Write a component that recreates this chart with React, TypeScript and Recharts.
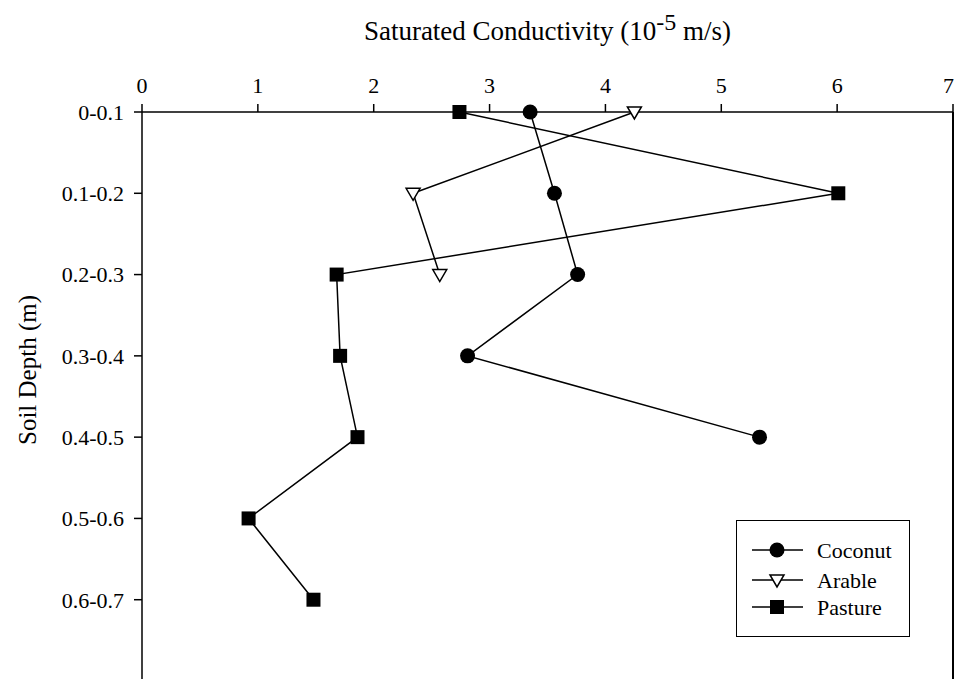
import { ScatterChart, Scatter, XAxis, YAxis, ReferenceLine, Legend } from 'recharts';

const depths = ['0-0.1', '0.1-0.2', '0.2-0.3', '0.3-0.4', '0.4-0.5', '0.5-0.6', '0.6-0.7'];
const conductivityTicks = [0, 1, 2, 3, 4, 5, 6, 7];

const coconut = [3.35, 3.56, 3.76, 2.81, 5.33];
const arable = [4.25, 2.34, 2.57];
const pasture = [2.74, 6.01, 1.68, 1.71, 1.86, 0.92, 1.48];

const FONT = '"Liberation Serif", "Times New Roman", serif';

const toPoints = (values: number[]) => values.map((v, i) => ({ x: v, y: i }));

function Circle({ cx, cy }: any) {
  return <circle cx={cx} cy={cy} r={7.5} fill="#000" />;
}

function Triangle({ cx, cy }: any) {
  return (
    <path
      d={`M${cx - 7},${cy - 5} L${cx + 7},${cy - 5} L${cx},${cy + 7} Z`}
      fill="#fff"
      stroke="#000"
      strokeWidth={1.5}
    />
  );
}

function Square({ cx, cy }: any) {
  return <rect x={cx - 7} y={cy - 7} width={14} height={14} fill="#000" />;
}

function TitleLabel({ viewBox }: any) {
  const cx = viewBox.x + viewBox.width / 2;
  return (
    <text x={cx} y={40} textAnchor="middle" fontSize={27} fontFamily={FONT} fill="#000">
      Saturated Conductivity (10
      <tspan dy={-10} fontSize={24}>-5</tspan>
      <tspan dy={10}> m/s)</tspan>
    </text>
  );
}

// axis title sits a bit above the middle of the (partly hidden) y axis
function DepthLabel() {
  const cy = 370;
  return (
    <text
      x={27}
      y={cy}
      transform={`rotate(-90, 27, ${cy})`}
      textAnchor="middle"
      dominantBaseline="central"
      fontSize={25}
      fontFamily={FONT}
      fill="#000"
    >
      Soil Depth (m)
    </text>
  );
}

const legendItems = [
  { name: 'Coconut', Shape: Circle },
  { name: 'Arable', Shape: Triangle },
  { name: 'Pasture', Shape: Square },
];

function LegendBox() {
  const rows = [30, 60, 87];
  return (
    <svg width={174} height={117} style={{ display: 'block' }}>
      <rect x={0.5} y={0.5} width={173} height={116} fill="#fff" stroke="#000" strokeWidth={1} />
      {legendItems.map((item, i) => (
        <g key={item.name}>
          <line x1={16} x2={67} y1={rows[i]} y2={rows[i]} stroke="#000" strokeWidth={1.5} />
          <item.Shape cx={41} cy={rows[i]} />
          <text x={81} y={rows[i]} dominantBaseline="central" fontSize={22} fontFamily={FONT} fill="#000">
            {item.name}
          </text>
        </g>
      ))}
    </svg>
  );
}

const lineStyle = { stroke: '#000', strokeWidth: 1.5 };
const axisStyle = { stroke: '#000', strokeWidth: 1.5 };
const tickStyle = { fill: '#000', fontSize: 22, fontFamily: FONT };

export default function App() {
  return (
    <div style={{ position: 'absolute', left: 0, top: 0, width: 954, height: 679, overflow: 'hidden', background: '#fff' }}>
      <ScatterChart width={954} height={700} margin={{ top: 0, right: 1, left: 0, bottom: 19 }}>
        <XAxis
          type="number"
          dataKey="x"
          orientation="top"
          domain={[0, 7]}
          ticks={conductivityTicks}
          height={112}
          tickSize={8}
          tickMargin={11}
          axisLine={axisStyle}
          tickLine={axisStyle}
          tick={tickStyle}
          label={<TitleLabel />}
        />
        <YAxis
          type="number"
          dataKey="y"
          reversed
          domain={[0, 7]}
          ticks={[0, 1, 2, 3, 4, 5, 6]}
          tickFormatter={(i: number) => depths[i]}
          width={142}
          tickSize={8}
          tickMargin={10}
          axisLine={axisStyle}
          tickLine={axisStyle}
          tick={tickStyle}
          label={<DepthLabel />}
        />
        <ReferenceLine x={7} stroke="#000" strokeWidth={2} />
        <Scatter name="Coconut" data={toPoints(coconut)} line={lineStyle} shape={<Circle />} isAnimationActive={false} />
        <Scatter name="Arable" data={toPoints(arable)} line={lineStyle} shape={<Triangle />} isAnimationActive={false} />
        <Scatter name="Pasture" data={toPoints(pasture)} line={lineStyle} shape={<Square />} isAnimationActive={false} />
        <Legend
          layout="horizontal"
          verticalAlign="middle"
          content={() => <LegendBox />}
          wrapperStyle={{ left: 736, top: 520, width: 174, height: 117 }}
        />
      </ScatterChart>
    </div>
  );
}
